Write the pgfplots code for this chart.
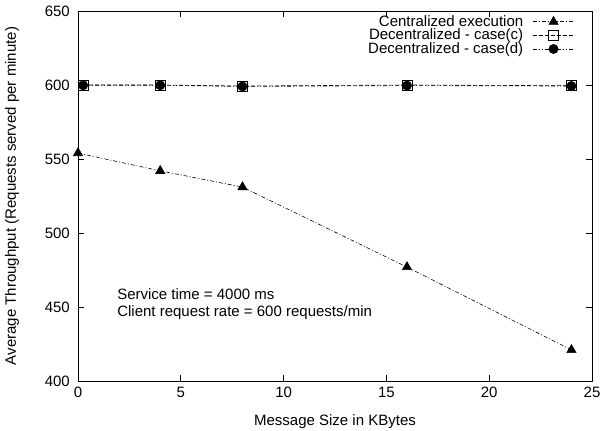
\documentclass[border=0pt]{standalone}
\usepackage{fontspec}
\setmainfont{Liberation Sans}
\usepackage{pgfplots}
\pgfplotsset{compat=1.18}

\begin{document}
\fontsize{15}{18}\selectfont
\begin{tikzpicture}
\begin{axis}[
    scale only axis,
    width=514pt, height=370pt,
    xmin=0, xmax=25, ymin=400, ymax=650,
    xtick={0,5,...,25},
    ytick={400,450,...,650},
    tick align=inside,
    major tick length=6pt,
    axis line style={line width=0.9pt},
    tick style={line width=0.6pt, black},
    /pgf/number format/assume math mode=true,
    yticklabel style={xshift=-3pt},
    xticklabel style={yshift=-1pt},
    xlabel={Message Size in KBytes},
    ylabel={Average Throughput (Requests served per minute)},
    every axis x label/.style={at={(rel axis cs:0.5,0)}, anchor=center, yshift=-41pt},
    every axis y label/.style={at={(rel axis cs:0,0.5)}, anchor=center, rotate=90, yshift=66pt},
    legend style={draw=none, fill=none, at={(rel axis cs:0.967,1)}, anchor=north east,
        yshift=-4pt, row sep=0.5pt, column sep=9pt, inner sep=0pt,
        nodes={inner sep=0pt}, font=\fontsize{15}{17}\selectfont},
    legend cell align=right,
    legend plot pos=right,
    legend image code/.code={\draw[mark repeat=2, mark phase=2, #1]
        plot coordinates {(0pt,0pt) (21pt,0pt) (42pt,0pt)};},
    clip=false,
]
\addplot[black, line width=0.6pt, dash pattern=on 4pt off 2pt on 1pt off 2pt,
    mark=triangle*, mark size=5.3pt, mark options={solid}]
coordinates {
    (0, 554)
    (4, 542)
    (8, 531)
    (16, 477)
    (24, 421)
};
\addlegendentry{Centralized execution}
\addplot[black, line width=0.6pt, dash pattern=on 4pt off 2pt,
    mark=square, mark size=5pt, mark options={solid, line width=0.9pt}]
coordinates {
    (0.25, 600)
    (4, 600)
    (8, 599.3)
    (16, 600)
    (24, 599.5)
};
\addlegendentry{Decentralized - case(c)}
\addplot[black, line width=0.6pt, dash pattern=on 4pt off 2pt on 1pt off 2pt on 1pt off 2pt,
    mark=*, mark size=4.6pt, mark options={solid}]
coordinates {
    (0.25, 599.8)
    (4, 599.8)
    (8, 599.0)
    (16, 599.6)
    (24, 599.3)
};
\addlegendentry{Decentralized - case(d)}
\node[anchor=west, align=left, inner sep=0pt, font=\fontsize{15}{17}\selectfont]
    at (axis cs:1.9,452) {Service time = 4000 ms\\Client request rate = 600 requests/min};
\coordinate (bl) at (rel axis cs:0,0);
\coordinate (tr) at (rel axis cs:1,1);
\end{axis}
\pgfresetboundingbox
\path[use as bounding box] ([xshift=-78pt,yshift=-50pt]bl) rectangle ([xshift=11pt,yshift=11pt]tr);
\end{tikzpicture}
\end{document}
